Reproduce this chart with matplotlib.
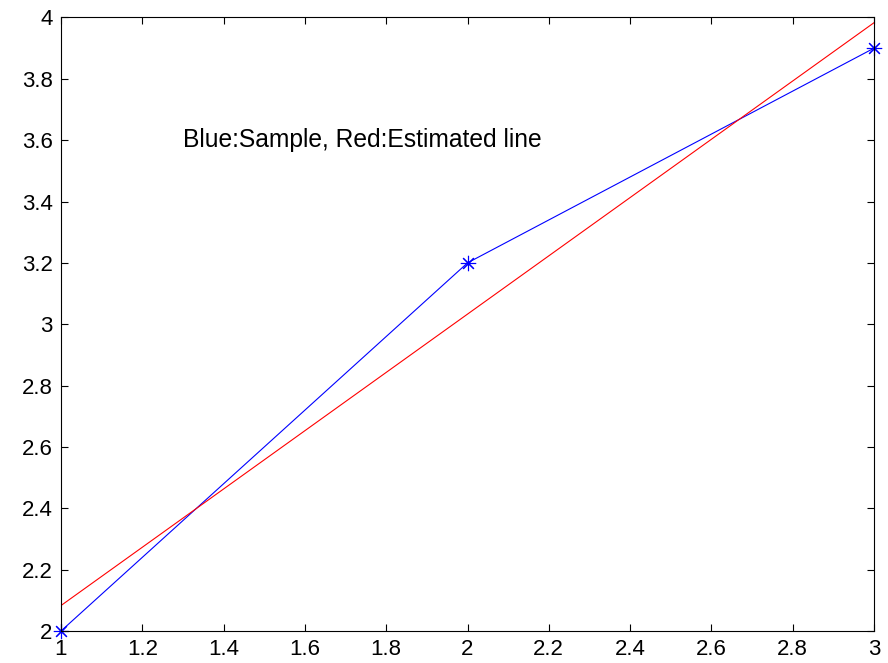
import matplotlib
matplotlib.use('Agg')
import matplotlib.pyplot as plt

# amostras (azul) e reta estimada (vermelho)
x_amostra = [1, 2, 3]
y_amostra = [2.0, 3.2, 3.9]
x_reta = [1, 3]
y_reta = [2.083, 3.983]

xticks = [1, 1.2, 1.4, 1.6, 1.8, 2, 2.2, 2.4, 2.6, 2.8, 3]
yticks = [2, 2.2, 2.4, 2.6, 2.8, 3, 3.2, 3.4, 3.6, 3.8, 4]
xtick_labels = ['1', '1.2', '1.4', '1.6', '1.8', '2', '2.2', '2.4', '2.6', '2.8', '3']
ytick_labels = ['2', '2.2', '2.4', '2.6', '2.8', '3', '3.2', '3.4', '3.6', '3.8', '4']

plt.rcParams['font.family'] = ['Liberation Sans', 'DejaVu Sans']

fig = plt.figure(figsize=(8.88, 6.63), dpi=100)
ax = fig.add_axes([61 / 888, 1 - 631 / 663, (874 - 61) / 888, (631 - 17.5) / 663])

ax.plot(x_amostra, y_amostra, '-', color='blue', linewidth=0.8)
ax.plot(x_amostra, y_amostra, linestyle='none', marker=(8, 2, 0), color='blue',
        markersize=11, markeredgewidth=0.8, clip_on=False)
ax.plot(x_reta, y_reta, '-', color='red', linewidth=0.8)

ax.text(1.3, 3.6, 'Blue:Sample, Red:Estimated line', fontsize=17.7, va='center', ha='left')

ax.set_xlim(1, 3)
ax.set_ylim(2, 4)
ax.set_xticks(xticks)
ax.set_xticklabels(xtick_labels)
ax.set_yticks(yticks)
ax.set_yticklabels(ytick_labels)
ax.tick_params(direction='in', length=5, width=0.8, top=True, right=True, labelsize=16, pad=6)
for s in ax.spines.values():
    s.set_linewidth(0.8)

fig.savefig('out.png', dpi=100)
